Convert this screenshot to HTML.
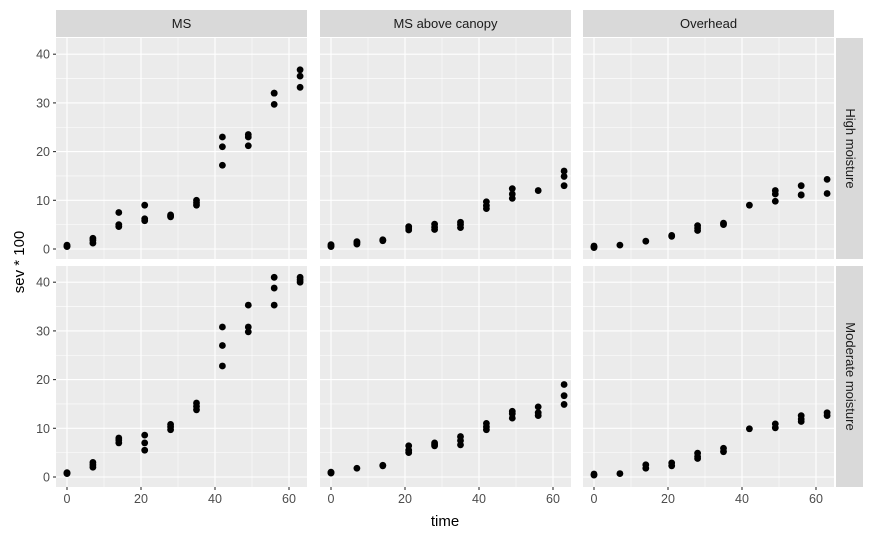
<!DOCTYPE html>
<html><head><meta charset="utf-8"><style>
body{margin:0;background:#fff}
svg{display:block;font-family:"Liberation Sans",Arial,sans-serif}
</style></head><body>
<svg id="chart" width="875" height="540" viewBox="0 0 875 540" xmlns="http://www.w3.org/2000/svg"></svg>
<script>
const times=[0,7,14,21,28,35,42,49,56,63];
const colLabels=["MS","MS above canopy","Overhead"];
const rowLabels=["High moisture","Moderate moisture"];
const xTicks=[0,20,40,60];
const yTicks=[0,10,20,30,40];
const msHigh=[[0.5,0.8,0.6],[1.2,1.8,2.2],[4.6,5,7.5],[5.8,6.2,9],[6.6,7,6.8],[9,9.5,10],[17.2,21,23],[21.2,23,23.5],[29.7,32,32],[33.2,35.5,36.8]];
const msMod=[[0.8,0.9,0.7],[2,2.5,3],[7,7.6,8],[5.5,7,8.6],[9.7,10.3,10.8],[13.8,14.5,15.2],[22.8,27,30.8],[29.8,30.8,35.3],[35.3,38.8,41],[40,40.5,41]];
const macHigh=[[0.5,0.7,0.9],[1,1.3,1.5],[1.7,1.9,1.8],[3.9,4.3,4.6],[4,4.5,5.1],[4.4,5,5.5],[8.3,8.9,9.7],[10.4,11.3,12.4],[12],[13,14.9,16]];
const macMod=[[0.9,0.8,1],[1.8],[2.3,2.4],[5,5.5,6.4],[6.4,7,6.7],[6.6,7.5,8.3],[9.7,10.3,11],[12.1,13,13.5],[12.6,13.2,14.4],[14.9,16.7,19]];
const ovHigh=[[0.3,0.6,0.5],[0.8],[1.6],[2.6,2.8],[3.8,4.3,4.8],[5,5.3],[9],[9.8,11.3,12],[11.1,11.1,13],[11.4,14.3]];
const ovMod=[[0.4,0.6],[0.7],[1.8,2.5],[2.3,2.9],[3.8,4.2,4.9],[5.2,5.9],[9.9],[10.1,10.9],[11.4,11.9,12.6],[12.6,13.2]];
const panelData=[[msHigh,macHigh,ovHigh],[msMod,macMod,ovMod]];

const NS="http://www.w3.org/2000/svg";
const svg=document.getElementById('chart');
function el(t,a,p){const e=document.createElementNS(NS,t);for(const k in a)e.setAttribute(k,a[k]);(p||svg).appendChild(e);return e;}
const colX=[56,320,583], pw=251;
const rowY=[38,266], ph=221;
const x0off=11, xScale=3.7;
const yScale=4.87, y0off=[211,211];
function sx(c,v){return colX[c]+x0off+v*xScale;}
function sy(r,v){return rowY[r]+y0off[r]-v*yScale;}

for(let c=0;c<3;c++){
  const s=el('rect',{x:colX[c],y:10,width:pw,height:27,fill:'#d9d9d9'});
  
  
  const t=el('text',{x:colX[c]+pw/2,y:28,'text-anchor':'middle','font-size':13,fill:'#1a1a1a'});
  t.textContent=colLabels[c];
  
  
}
for(let r=0;r<2;r++){
  const s=el('rect',{x:836,y:rowY[r],width:27,height:ph,fill:'#d9d9d9'});
  
  
  const cx=849.5, cy=rowY[r]+ph/2;
  const t=el('text',{x:cx,y:cy,'text-anchor':'middle','font-size':13,fill:'#1a1a1a',transform:`rotate(90 ${cx} ${cy})`,'dominant-baseline':'middle'});
  t.textContent=rowLabels[r];
  
  
}
for(let r=0;r<2;r++)for(let c=0;c<3;c++){
  const g=el('g',{});
  
  
  el('rect',{x:colX[c],y:rowY[r],width:pw,height:ph,fill:'#ebebeb'},g);
  const clipTop=rowY[r], clipBot=rowY[r]+ph;
  for(let i=0;i<yTicks.length;i++){
    const mv=yTicks[i]+5, ym=sy(r,mv);
    if(ym>clipTop) el('line',{x1:colX[c],x2:colX[c]+pw,y1:ym,y2:ym,stroke:'#fff','stroke-width':0.55},g);
    const y=sy(r,yTicks[i]);
    el('line',{x1:colX[c],x2:colX[c]+pw,y1:y,y2:y,stroke:'#fff','stroke-width':1.1},g);
  }
  for(let i=0;i<xTicks.length;i++){
    const xm=sx(c,xTicks[i]+10);
    if(xm<colX[c]+pw) el('line',{x1:xm,x2:xm,y1:clipTop,y2:clipBot,stroke:'#fff','stroke-width':0.55},g);
    const x=sx(c,xTicks[i]);
    el('line',{x1:x,x2:x,y1:clipTop,y2:clipBot,stroke:'#fff','stroke-width':1.1},g);
  }
  const d=panelData[r][c];
  for(let i=0;i<times.length;i++)for(const v of d[i]){
    const p=el('circle',{cx:sx(c,times[i]),cy:sy(r,v),r:3.4,fill:'#000'},g);
    
    
  }
}
for(let r=0;r<2;r++)for(const v of yTicks){
  const y=sy(r,v);
  el('line',{x1:53,x2:56,y1:y,y2:y,stroke:'#333','stroke-width':1.1});
  const t=el('text',{x:50,y:y+4.5,'text-anchor':'end','font-size':12.5,fill:'#4d4d4d'});
  t.textContent=v;
  
  
}
for(let c=0;c<3;c++)for(const v of xTicks){
  const x=sx(c,v);
  el('line',{x1:x,x2:x,y1:487,y2:490,stroke:'#333','stroke-width':1.1});
  const t=el('text',{x:x,y:503,'text-anchor':'middle','font-size':12.5,fill:'#4d4d4d'});
  t.textContent=v;
  
  
}
const xt=el('text',{x:445,y:526,'text-anchor':'middle','font-size':15,fill:'#000'});
xt.textContent='time';


const yt=el('text',{x:24,y:262,'text-anchor':'middle','font-size':15,fill:'#000',transform:'rotate(-90 24 262)'});
yt.textContent='sev * 100';


</script>
</body></html>
